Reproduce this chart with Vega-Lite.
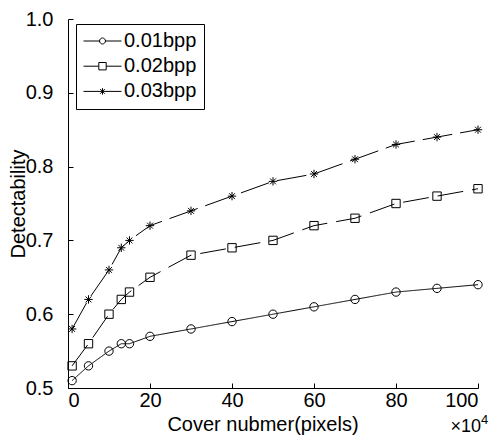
{
  "$schema": "https://vega.github.io/schema/vega-lite/v6.json",
  "width": 410,
  "height": 369,
  "autosize": "none",
  "padding": {"left": 68, "top": 19, "right": 16, "bottom": 48},
  "background": "white",
  "config": {
    "view": {"stroke": null},
    "font": "Liberation Sans",
    "axis": {
      "domainColor": "black",
      "tickColor": "black",
      "labelColor": "black",
      "titleColor": "black",
      "labelFont": "Liberation Sans",
      "titleFont": "Liberation Sans",
      "labelFontSize": 20,
      "titleFontSize": 20,
      "titleFontWeight": "normal",
      "grid": false,
      "tickSize": -5,
      "domainWidth": 1,
      "tickWidth": 1
    }
  },
  "data": {
    "values": [
      {"series": "0.01bpp", "x": 1, "y": 0.51},
      {"series": "0.01bpp", "x": 5, "y": 0.53},
      {"series": "0.01bpp", "x": 10, "y": 0.55},
      {"series": "0.01bpp", "x": 13, "y": 0.56},
      {"series": "0.01bpp", "x": 15, "y": 0.56},
      {"series": "0.01bpp", "x": 20, "y": 0.57},
      {"series": "0.01bpp", "x": 30, "y": 0.58},
      {"series": "0.01bpp", "x": 40, "y": 0.59},
      {"series": "0.01bpp", "x": 50, "y": 0.60},
      {"series": "0.01bpp", "x": 60, "y": 0.61},
      {"series": "0.01bpp", "x": 70, "y": 0.62},
      {"series": "0.01bpp", "x": 80, "y": 0.63},
      {"series": "0.01bpp", "x": 90, "y": 0.635},
      {"series": "0.01bpp", "x": 100, "y": 0.64},
      {"series": "0.02bpp", "x": 1, "y": 0.53},
      {"series": "0.02bpp", "x": 5, "y": 0.56},
      {"series": "0.02bpp", "x": 10, "y": 0.60},
      {"series": "0.02bpp", "x": 13, "y": 0.62},
      {"series": "0.02bpp", "x": 15, "y": 0.63},
      {"series": "0.02bpp", "x": 20, "y": 0.65},
      {"series": "0.02bpp", "x": 30, "y": 0.68},
      {"series": "0.02bpp", "x": 40, "y": 0.69},
      {"series": "0.02bpp", "x": 50, "y": 0.70},
      {"series": "0.02bpp", "x": 60, "y": 0.72},
      {"series": "0.02bpp", "x": 70, "y": 0.73},
      {"series": "0.02bpp", "x": 80, "y": 0.75},
      {"series": "0.02bpp", "x": 90, "y": 0.76},
      {"series": "0.02bpp", "x": 100, "y": 0.77},
      {"series": "0.03bpp", "x": 1, "y": 0.58},
      {"series": "0.03bpp", "x": 5, "y": 0.62},
      {"series": "0.03bpp", "x": 10, "y": 0.66},
      {"series": "0.03bpp", "x": 13, "y": 0.69},
      {"series": "0.03bpp", "x": 15, "y": 0.70},
      {"series": "0.03bpp", "x": 20, "y": 0.72},
      {"series": "0.03bpp", "x": 30, "y": 0.74},
      {"series": "0.03bpp", "x": 40, "y": 0.76},
      {"series": "0.03bpp", "x": 50, "y": 0.78},
      {"series": "0.03bpp", "x": 60, "y": 0.79},
      {"series": "0.03bpp", "x": 70, "y": 0.81},
      {"series": "0.03bpp", "x": 80, "y": 0.83},
      {"series": "0.03bpp", "x": 90, "y": 0.84},
      {"series": "0.03bpp", "x": 100, "y": 0.85}
    ]
  },
  "encoding": {
    "x": {
      "field": "x", "type": "quantitative",
      "scale": {"domain": [0, 100], "nice": false},
      "axis": {"values": [0, 20, 40, 60, 80, 100], "title": "Cover nubmer(pixels)", "labelPadding": 7, "titlePadding": 4, "titleX": 194.5}
    },
    "y": {
      "field": "y", "type": "quantitative",
      "scale": {"domain": [0.5, 1.0], "nice": false, "zero": false},
      "axis": {"values": [0.5, 0.6, 0.7, 0.8, 0.9, 1.0], "format": ".1f", "title": "Detectability", "labelPadding": 20, "titleX": -50, "titleBaseline": "middle"}
    }
  },
  "layer": [
    {
      "mark": {"type": "line", "color": "black", "strokeWidth": 1},
      "encoding": {
        "detail": {"field": "series"},
        "strokeDash": {
          "field": "series", "type": "nominal",
          "scale": {"domain": ["0.01bpp", "0.02bpp", "0.03bpp"], "range": [[1, 0], [26, 9], [30, 8]]},
          "legend": null
        }
      }
    },
    {
      "mark": {"type": "point", "filled": false, "color": "black", "strokeWidth": 1, "size": 70, "opacity": 1},
      "encoding": {
        "shape": {
          "field": "series", "type": "nominal",
          "scale": {"domain": ["0.01bpp", "0.02bpp", "0.03bpp"], "range": ["circle", "square", "M-1,0L1,0M0,-1L0,1M-0.7,-0.7L0.7,0.7M-0.7,0.7L0.7,-0.7"]},
          "legend": null
        }
      }
    },
    {
      "mark": {"type": "point", "filled": false, "color": "black", "strokeWidth": 1, "size": 324, "opacity": 0},
      "encoding": {
        "shape": {
          "field": "series", "type": "nominal",
          "scale": {"domain": ["0.01bpp", "0.02bpp", "0.03bpp"], "range": [
            "M-2.11,0L-0.33,0M0.33,0L2.11,0M0.33,0A0.33,0.33,0,1,1,-0.33,0A0.33,0.33,0,1,1,0.33,0",
            "M-2.11,0L-0.41,0M0.41,0L2.11,0M-0.41,-0.41L0.41,-0.41L0.41,0.41L-0.41,0.41Z",
            "M-2.11,0L2.11,0M0,-0.36L0,0.36M-0.26,-0.26L0.26,0.26M-0.26,0.26L0.26,-0.26"
          ]},
          "legend": {
            "title": null,
            "orient": "none",
            "legendX": 8,
            "legendY": 5,
            "strokeColor": "black",
            "fillColor": "white",
            "padding": 7,
            "symbolSize": 324,
            "symbolStrokeWidth": 1,
            "symbolStrokeColor": "black",
            "symbolFillColor": "transparent",
            "symbolOffset": 9.5,
            "labelOffset": 11.5,
            "labelFontSize": 20,
            "labelColor": "black",
            "labelFont": "Liberation Sans",
            "rowPadding": 5.2,
            "encode": {"symbols": {"update": {"opacity": {"value": 1}}}}
          }
        }
      }
    },
    {
      "data": {"values": [{"x": 100, "y": 0.5, "t": "×10"}]},
      "mark": {"type": "text", "fontSize": 18, "color": "black", "align": "right", "baseline": "alphabetic", "dy": 44, "dx": 3, "font": "Liberation Sans"},
      "encoding": {"text": {"field": "t"}}
    },
    {
      "data": {"values": [{"x": 100, "y": 0.5, "t": "4"}]},
      "mark": {"type": "text", "fontSize": 13, "color": "black", "align": "left", "baseline": "alphabetic", "dy": 36, "dx": 3, "font": "Liberation Sans"},
      "encoding": {"text": {"field": "t"}}
    }
  ],
  "resolve": {"scale": {"shape": "independent"}}
}
